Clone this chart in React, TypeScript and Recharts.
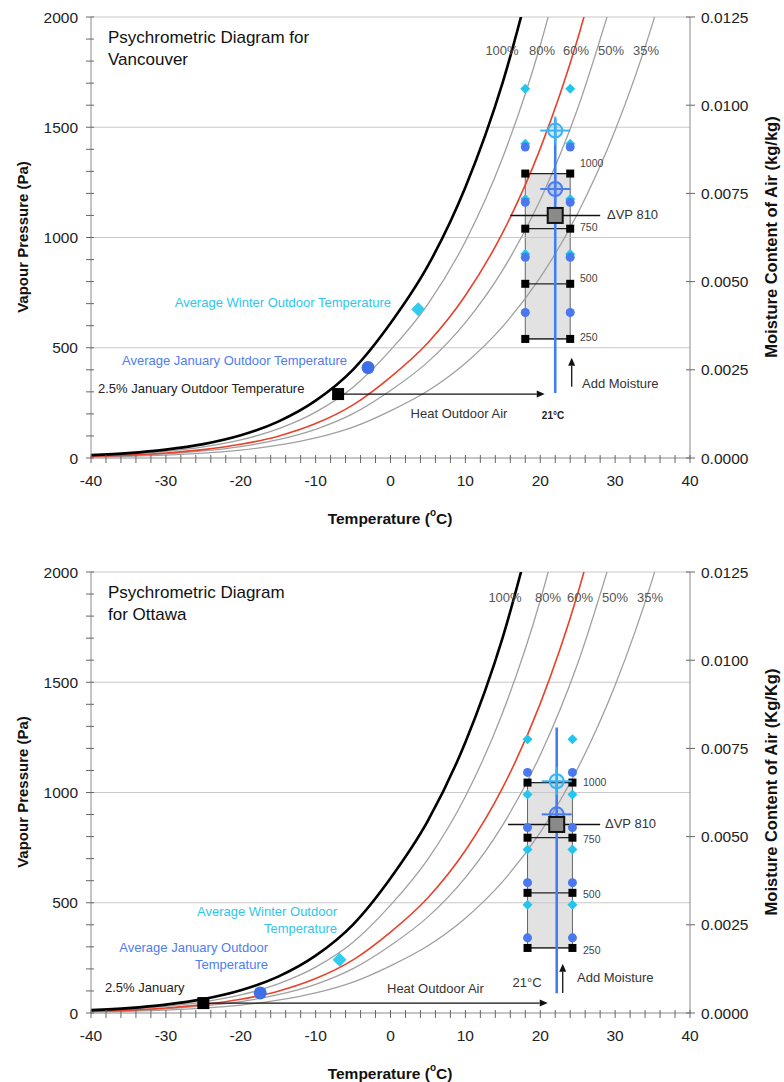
import React from 'react';
import { ComposedChart, Line, Scatter, XAxis, YAxis, ReferenceLine, ReferenceArea } from 'recharts';

const FONT = '"Liberation Sans", Arial, sans-serif';

// relative humidity curves, vapour pressure (Pa) every 5 degC from -40
const curveTemps = [-40, -35, -30, -25, -20, -15, -10, -5, 0, 5, 10, 15, 20, 25, 30, 35, 40];
const rh100 = [13, 22, 38, 63, 103, 165, 260, 401, 611, 872, 1228, 1705, 2339];
const rh80 = [10, 18, 30, 50, 82, 132, 208, 321, 489, 698, 982, 1364, 1871, 2535];
const rh60 = [8, 13, 23, 38, 62, 99, 156, 241, 367, 523, 737, 1023, 1403, 1901, 2548];
const rh50 = [7, 11, 19, 32, 52, 83, 130, 201, 306, 436, 614, 853, 1170, 1585, 2123];
const rh35 = [5, 8, 13, 22, 36, 58, 91, 140, 214, 305, 430, 597, 819, 1109, 1486, 1970, 2584];
const rhLabels = ['100%', '80%', '60%', '50%', '35%'];

// axes
const xMajor = [-40, -30, -20, -10, 0, 10, 20, 30, 40];
const xTickLabels = ['-40', '-30', '-20', '-10', '0', '10', '20', '30', '40'];
const yMajor = [0, 500, 1000, 1500, 2000];
const yTickLabels = ['0', '500', '1000', '1500', '2000'];
const rightTicks = [0, 0.0025, 0.005, 0.0075, 0.01, 0.0125];
const rightTickLabels = ['0.0000', '0.0025', '0.0050', '0.0075', '0.0100', '0.0125'];
const xMinor = Array.from({ length: 41 }, (_, i) => -40 + i * 2);
const yMinor = Array.from({ length: 21 }, (_, i) => i * 100);
const stepLabels = ['250', '500', '750', '1000'];

// Vancouver
const vanStartT = [-7, -3, 3.7]; // 2.5% Jan, avg Jan, avg winter
const vanStartVP = [290, 410, 675];
const vanBoxT = [18, 24];
const vanLevels = [540, 790, 1040, 1290];
const vanJanSteps = [660, 910, 1160, 1410];
const vanWinterSteps = [925, 1175, 1425, 1675];
const vanDeltaT = 22;
const vanDeltaVP = [1100, 1220, 1485]; // 2.5% Jan, avg Jan, avg winter + 810
const vanDeltaLine = [16, 28];
const vanBlueLine = [295, 1540];
const vanHeatArrow = [-7, 20.6];
const vanMoistT = 24.2;
const vanMoistArrow = [323, 455];

// Ottawa
const ottStartT = [-25, -17.4, -6.8];
const ottStartVP = [45, 91, 241];
const ottBoxT = [18.3, 24.3];
const ottLevels = [295, 545, 795, 1045];
const ottJanSteps = [341, 591, 841, 1091];
const ottWinterSteps = [491, 741, 991, 1241];
const ottDeltaT = 22.2;
const ottDeltaVP = [855, 901, 1051];
const ottDeltaLine = [15.7, 28];
const ottBlueLine = [90, 1295];
const ottHeatArrow = [-25, 21];
const ottMoistT = 23.0;
const ottMoistArrow = [91, 223];

const toPts = (vals: number[]) => vals.map((vp, i) => ({ t: curveTemps[i], vp }));

const BLUE = '#4a78ee';
const CYAN = '#22c5ee';
const TICK_SIZE = 5;
const TICK_GAP = 8;

const square = (s: number, fill: string, stroke?: string) => (p: any) => (
  <rect x={p.cx - s / 2} y={p.cy - s / 2} width={s} height={s} fill={fill} stroke={stroke} strokeWidth={stroke ? 2 : 0} />
);
const dot = (r: number, fill: string) => (p: any) => <circle cx={p.cx} cy={p.cy} r={r} fill={fill} />;
const diamond = (s: number, fill: string) => (p: any) => (
  <polygon points={`${p.cx},${p.cy - s} ${p.cx + s},${p.cy} ${p.cx},${p.cy + s} ${p.cx - s},${p.cy}`} fill={fill} />
);
const crossHair = (color: string) => (p: any) => (
  <g>
    <line x1={p.cx - 15} x2={p.cx + 15} y1={p.cy} y2={p.cy} stroke={color} strokeWidth={2} />
    <line x1={p.cx} x2={p.cx} y1={p.cy - 14} y2={p.cy + 14} stroke={color} strokeWidth={2} />
    <circle cx={p.cx} cy={p.cy} r={7} fill={color} fillOpacity={0.25} stroke={color} strokeWidth={2} />
  </g>
);
const arrow = (p: any) => {
  const { x1, y1, x2, y2 } = p;
  const a = Math.atan2(y2 - y1, x2 - x1);
  const h = 8;
  const w = 3.5;
  const bx = x2 - h * Math.cos(a);
  const by = y2 - h * Math.sin(a);
  const pts = `${x2},${y2} ${bx - w * Math.sin(a)},${by + w * Math.cos(a)} ${bx + w * Math.sin(a)},${by - w * Math.cos(a)}`;
  return (
    <g>
      <line x1={x1} y1={y1} x2={bx} y2={by} stroke="#111" strokeWidth={1.3} />
      <polygon points={pts} fill="#111" />
    </g>
  );
};

// ticks that cross the axis line, labels only on the major values
const xTick = (p: any) => {
  const ay = p.y - TICK_SIZE - TICK_GAP;
  const i = xMajor.indexOf(p.payload.value);
  return (
    <g>
      <line x1={p.x} x2={p.x} y1={ay - 3} y2={ay + 5} stroke="#666" strokeWidth={1} />
      {i >= 0 && (
        <text x={p.x} y={p.y + 4} textAnchor="middle" dominantBaseline="hanging" fill="#222" fontSize={15.5} fontFamily={FONT}>
          {xTickLabels[i]}
        </text>
      )}
    </g>
  );
};
const yTick = (p: any) => {
  const ax = p.x + TICK_SIZE + TICK_GAP;
  const i = yMajor.indexOf(p.payload.value);
  return (
    <g>
      <line x1={ax - 5} x2={ax + 3} y1={p.y} y2={p.y} stroke="#666" strokeWidth={1} />
      {i >= 0 && (
        <text x={p.x} y={p.y} textAnchor="end" dominantBaseline="central" fill="#222" fontSize={15.5} fontFamily={FONT}>
          {yTickLabels[i]}
        </text>
      )}
    </g>
  );
};
const rTick = (p: any) => {
  const ax = p.x - TICK_SIZE - 6;
  const i = rightTicks.indexOf(p.payload.value);
  return (
    <g>
      <line x1={ax - 4} x2={ax + 5} y1={p.y} y2={p.y} stroke="#666" strokeWidth={1} />
      <text x={p.x} y={p.y} textAnchor="start" dominantBaseline="central" fill="#222" fontSize={15.5} fontFamily={FONT}>
        {rightTickLabels[i]}
      </text>
    </g>
  );
};

type Txt = { x: number; y: number; s: string; size?: number; color?: string; anchor?: string; bold?: boolean };

interface ChartProps {
  top: number;
  height: number;
  startT: number[];
  startVP: number[];
  boxT: number[];
  levels: number[];
  janSteps: number[];
  winterSteps: number[];
  deltaT: number;
  deltaVP: number[];
  deltaLine: number[];
  blueLine: number[];
  heatArrow: number[];
  moistT: number;
  moistArrow: number[];
  rightTitle: string;
  texts: Txt[];
}

const Psychro: React.FC<ChartProps> = (c) => {
  const w = 784;
  const xAxisH = c.height - 458;
  const corners = c.levels.flatMap((vp) => c.boxT.map((t) => ({ t, vp })));
  const janPts = c.janSteps.flatMap((vp) => c.boxT.map((t) => ({ t, vp })));
  const winPts = c.winterSteps.flatMap((vp) => c.boxT.map((t) => ({ t, vp })));

  return (
    <div style={{ position: 'absolute', left: 0, top: c.top, width: w, height: c.height }}>
      <ComposedChart width={w} height={c.height} margin={{ top: 17, right: 0, bottom: 0, left: 0 }}>
        <XAxis
          type="number"
          dataKey="t"
          domain={[-40, 40]}
          ticks={xMinor}
          interval={0}
          allowDataOverflow
          height={xAxisH}
          stroke="#8a8a8a"
          tick={xTick}
          tickLine={false}
          tickSize={TICK_SIZE}
          tickMargin={TICK_GAP}
        />
        <YAxis
          yAxisId="left"
          type="number"
          domain={[0, 2000]}
          ticks={yMinor}
          interval={0}
          allowDataOverflow
          width={91}
          stroke="#8a8a8a"
          tick={yTick}
          tickLine={false}
          tickSize={TICK_SIZE}
          tickMargin={TICK_GAP}
        />
        <YAxis
          yAxisId="right"
          orientation="right"
          type="number"
          domain={[0, 0.0125]}
          ticks={rightTicks}
          interval={0}
          allowDataOverflow
          width={94}
          stroke="#8a8a8a"
          tick={rTick}
          tickLine={false}
          tickSize={TICK_SIZE}
          tickMargin={6}
        />
        {[500, 1000, 1500, 2000].map((v) => (
          <ReferenceLine key={v} yAxisId="left" y={v} stroke="#c8c8c8" strokeWidth={1.2} />
        ))}

        <ReferenceArea
          yAxisId="left"
          x1={c.boxT[0]}
          x2={c.boxT[1]}
          y1={c.levels[0]}
          y2={c.levels[c.levels.length - 1]}
          fill="#e2e2e2"
          fillOpacity={1}
          stroke="#666"
          strokeWidth={1}
        />

        <Line yAxisId="left" data={toPts(rh35)} dataKey="vp" type="monotone" stroke="#a0a0a0" strokeWidth={1.3} dot={false} isAnimationActive={false} />
        <Line yAxisId="left" data={toPts(rh50)} dataKey="vp" type="monotone" stroke="#a0a0a0" strokeWidth={1.3} dot={false} isAnimationActive={false} />
        <Line yAxisId="left" data={toPts(rh80)} dataKey="vp" type="monotone" stroke="#a0a0a0" strokeWidth={1.3} dot={false} isAnimationActive={false} />
        <Line yAxisId="left" data={toPts(rh60)} dataKey="vp" type="monotone" stroke="#e8412c" strokeWidth={1.6} dot={false} isAnimationActive={false} />
        <Line yAxisId="left" data={toPts(rh100)} dataKey="vp" type="monotone" stroke="#000" strokeWidth={2.6} dot={false} isAnimationActive={false} />

        {c.levels.map((vp) => (
          <ReferenceLine key={'lv' + vp} yAxisId="left" segment={[{ x: c.boxT[0], y: vp }, { x: c.boxT[1], y: vp }]} stroke="#222" strokeWidth={1.3} />
        ))}
        <ReferenceLine
          yAxisId="left"
          segment={[{ x: c.deltaT, y: c.blueLine[0] }, { x: c.deltaT, y: c.blueLine[1] }]}
          stroke="#3f7ff0"
          strokeWidth={2.6}
        />
        <ReferenceLine
          yAxisId="left"
          segment={[{ x: c.deltaLine[0], y: c.deltaVP[0] }, { x: c.deltaLine[1], y: c.deltaVP[0] }]}
          stroke="#111"
          strokeWidth={1.5}
        />
        <ReferenceLine
          yAxisId="left"
          segment={[{ x: c.heatArrow[0], y: c.startVP[0] }, { x: c.heatArrow[1], y: c.startVP[0] }]}
          shape={arrow}
        />
        <ReferenceLine
          yAxisId="left"
          segment={[{ x: c.moistT, y: c.moistArrow[0] }, { x: c.moistT, y: c.moistArrow[1] }]}
          shape={arrow}
        />

        <Scatter yAxisId="left" data={winPts} dataKey="vp" shape={diamond(5, CYAN)} isAnimationActive={false} />
        <Scatter yAxisId="left" data={janPts} dataKey="vp" shape={dot(4.5, BLUE)} isAnimationActive={false} />
        <Scatter yAxisId="left" data={corners} dataKey="vp" shape={square(8, '#000')} isAnimationActive={false} />
        <Scatter yAxisId="left" data={[{ t: c.deltaT, vp: c.deltaVP[2] }]} dataKey="vp" shape={crossHair('#3bb4f2')} isAnimationActive={false} />
        <Scatter yAxisId="left" data={[{ t: c.deltaT, vp: c.deltaVP[1] }]} dataKey="vp" shape={crossHair('#4a7ef0')} isAnimationActive={false} />
        <Scatter yAxisId="left" data={[{ t: c.deltaT, vp: c.deltaVP[0] }]} dataKey="vp" shape={square(15, '#8a8a8a', '#111')} isAnimationActive={false} />

        <Scatter yAxisId="left" data={[{ t: c.startT[2], vp: c.startVP[2] }]} dataKey="vp" shape={diamond(7, '#33ccee')} isAnimationActive={false} />
        <Scatter yAxisId="left" data={[{ t: c.startT[1], vp: c.startVP[1] }]} dataKey="vp" shape={dot(6.5, '#3d6fe8')} isAnimationActive={false} />
        <Scatter yAxisId="left" data={[{ t: c.startT[0], vp: c.startVP[0] }]} dataKey="vp" shape={square(12, '#000')} isAnimationActive={false} />
      </ComposedChart>

      <svg
        width={w}
        height={c.height}
        style={{ position: 'absolute', left: 0, top: 0, pointerEvents: 'none', fontFamily: FONT }}
      >
        {c.texts.map((t, i) => (
          <text
            key={i}
            x={t.x}
            y={t.y}
            fontSize={t.size || 13}
            fill={t.color || '#333'}
            textAnchor={(t.anchor as any) || 'start'}
            fontWeight={t.bold ? 'bold' : 'normal'}
            dominantBaseline="central"
          >
            {t.s}
          </text>
        ))}
        <text x={22} y={237} fontSize={15} fontWeight="bold" fill="#111" textAnchor="middle" dominantBaseline="central" transform="rotate(-90 22 237)">
          Vapour Pressure (Pa)
        </text>
        <text x={771} y={237} fontSize={16.5} fontWeight="bold" fill="#111" textAnchor="middle" dominantBaseline="central" transform="rotate(-90 771 237)">
          {c.rightTitle}
        </text>
        <text x={390} y={518} fontSize={15.5} fontWeight="bold" fill="#111" textAnchor="middle" dominantBaseline="central">
          Temperature (<tspan fontSize={10} dy={-6}>o</tspan>
          <tspan dy={6}>C)</tspan>
        </text>
      </svg>
    </div>
  );
};

const rhX1 = [502, 542, 576, 611, 646];
const rhX2 = [505, 548, 580, 615, 650];

const vanTexts: Txt[] = [
  { x: 108, y: 37, s: 'Psychrometric Diagram for', size: 17, color: '#111' },
  { x: 108, y: 59, s: 'Vancouver', size: 17, color: '#111' },
  ...rhLabels.map((s, i) => ({ x: rhX1[i], y: 50, s, anchor: 'middle', color: '#555' })),
  { x: 580, y: 337, s: stepLabels[0], size: 10.5, color: '#444' },
  { x: 580, y: 278, s: stepLabels[1], size: 10.5, color: '#444' },
  { x: 580, y: 227, s: stepLabels[2], size: 10.5, color: '#444' },
  { x: 580, y: 163, s: stepLabels[3], size: 10.5, color: '#444' },
  { x: 607, y: 214, s: '\u0394VP 810', color: '#333' },
  { x: 582, y: 383, s: 'Add Moisture', color: '#333' },
  { x: 553, y: 415, s: '21\u00B0C', size: 10, bold: true, anchor: 'middle', color: '#222' },
  { x: 459, y: 413, s: 'Heat Outdoor Air', anchor: 'middle', color: '#333' },
  { x: 98, y: 388, s: '2.5% January Outdoor Temperature', color: '#222' },
  { x: 347, y: 360, s: 'Average January Outdoor Temperature', anchor: 'end', color: '#4f7cf0' },
  { x: 391, y: 302, s: 'Average Winter Outdoor Temperature', anchor: 'end', color: '#2ec7ea' },
];

const ottTexts: Txt[] = [
  { x: 108, y: 37, s: 'Psychrometric Diagram', size: 17, color: '#111' },
  { x: 108, y: 59, s: 'for Ottawa', size: 17, color: '#111' },
  ...rhLabels.map((s, i) => ({ x: rhX2[i], y: 42, s, anchor: 'middle', color: '#555' })),
  { x: 583, y: 395, s: stepLabels[0], size: 10.5, color: '#444' },
  { x: 583, y: 339, s: stepLabels[1], size: 10.5, color: '#444' },
  { x: 583, y: 284, s: stepLabels[2], size: 10.5, color: '#444' },
  { x: 583, y: 227, s: stepLabels[3], size: 10.5, color: '#444' },
  { x: 605, y: 268, s: '\u0394VP 810', color: '#333' },
  { x: 577, y: 422, s: 'Add Moisture', color: '#333' },
  { x: 527, y: 427, s: '21\u00B0C', anchor: 'middle', color: '#333' },
  { x: 387, y: 433, s: 'Heat Outdoor Air', color: '#333' },
  { x: 105, y: 432, s: '2.5% January', color: '#222' },
  { x: 268, y: 392, s: 'Average January Outdoor', anchor: 'end', color: '#4f7cf0' },
  { x: 268, y: 409, s: 'Temperature', anchor: 'end', color: '#4f7cf0' },
  { x: 337, y: 356, s: 'Average Winter Outdoor', anchor: 'end', color: '#2ec7ea' },
  { x: 337, y: 373, s: 'Temperature', anchor: 'end', color: '#2ec7ea' },
];

export default function App() {
  return (
    <div style={{ position: 'absolute', left: 0, top: 0, width: 784, height: 1082, background: '#fff', overflow: 'hidden' }}>
      <Psychro
        top={0}
        height={540}
        startT={vanStartT}
        startVP={vanStartVP}
        boxT={vanBoxT}
        levels={vanLevels}
        janSteps={vanJanSteps}
        winterSteps={vanWinterSteps}
        deltaT={vanDeltaT}
        deltaVP={vanDeltaVP}
        deltaLine={vanDeltaLine}
        blueLine={vanBlueLine}
        heatArrow={vanHeatArrow}
        moistT={vanMoistT}
        moistArrow={vanMoistArrow}
        rightTitle="Moisture Content of Air (kg/kg)"
        texts={vanTexts}
      />
      <Psychro
        top={555}
        height={527}
        startT={ottStartT}
        startVP={ottStartVP}
        boxT={ottBoxT}
        levels={ottLevels}
        janSteps={ottJanSteps}
        winterSteps={ottWinterSteps}
        deltaT={ottDeltaT}
        deltaVP={ottDeltaVP}
        deltaLine={ottDeltaLine}
        blueLine={ottBlueLine}
        heatArrow={ottHeatArrow}
        moistT={ottMoistT}
        moistArrow={ottMoistArrow}
        rightTitle="Moisture Content of Air (Kg/Kg)"
        texts={ottTexts}
      />
    </div>
  );
}
